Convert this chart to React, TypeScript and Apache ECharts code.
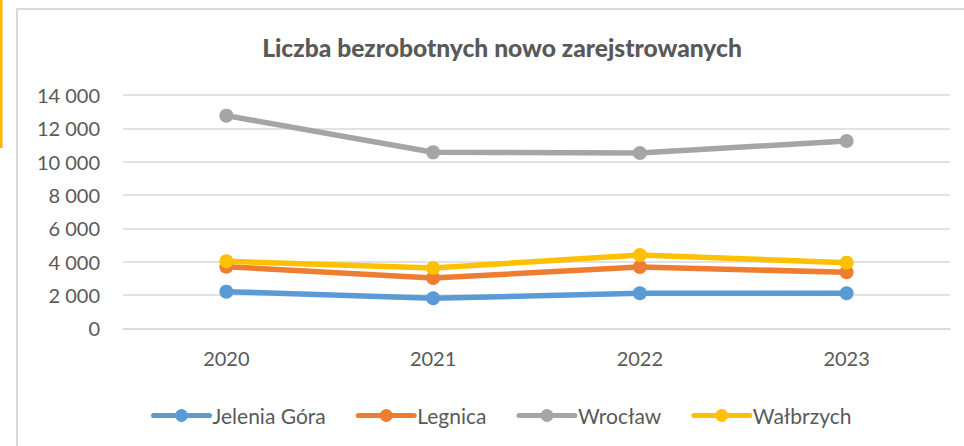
import React, { useEffect, useRef } from "react";
import * as echarts from "echarts";

const years = ["2020", "2021", "2022", "2023"];
const jeleniaGora = [2200, 1800, 2100, 2100];
const legnica = [3700, 3020, 3680, 3360];
const wroclaw = [12760, 10560, 10520, 11240];
const walbrzych = [4020, 3620, 4400, 3940];
const seriesNames = ["Jelenia Góra", "Legnica", "Wrocław", "Wałbrzych"];
const seriesColors = ["#5B9BD5", "#ED7D31", "#A5A5A5", "#FFC000"];
const titleText = "Liczba bezrobotnych nowo zarejstrowanych";

const FONT = "Lato, 'Open Sans', sans-serif";

export default function App() {
  const ref = useRef<HTMLDivElement>(null);
  useEffect(() => {
    if (!ref.current) return;
    const chart = echarts.init(ref.current, undefined, { renderer: "svg" });
    const datasets = [jeleniaGora, legnica, wroclaw, walbrzych];
    chart.setOption({
      animation: false,
      backgroundColor: "#ffffff",
      textStyle: { fontFamily: FONT },
      title: {
        text: titleText,
        left: 497,
        textAlign: "center",
        top: 30,
        textStyle: { fontFamily: FONT, fontWeight: 900, fontSize: 24.6, color: "#595959" },
      },
      graphic: [
        {
          type: "rect",
          shape: { x: 17, y: 9, width: 1000, height: 500 },
          style: { fill: "none", stroke: "#D9D9D9", lineWidth: 2 },
          silent: true,
        },
        {
          type: "rect",
          shape: { x: 0, y: 0, width: 2.5, height: 148 },
          style: { fill: "#FFB400" },
          silent: true,
        },
      ],
      legend: {
        left: 146,
        top: 400,
        itemWidth: 56,
        itemHeight: 16,
        itemGap: 30,
        lineStyle: { width: 5 },
        textStyle: { fontFamily: FONT, fontSize: 21, color: "#595959", padding: [0, 0, 0, -2] },
        data: seriesNames,
      },
      grid: { left: 123, right: 14, top: 95, bottom: 117.7, containLabel: false },
      xAxis: {
        type: "category",
        data: years,
        boundaryGap: true,
        axisLine: { show: true, lineStyle: { color: "#D9D9D9", width: 1.5 } },
        axisTick: { show: false },
        axisLabel: { fontFamily: FONT, fontSize: 20, color: "#595959", margin: 20 },
      },
      yAxis: {
        type: "value",
        min: 0,
        max: 14000,
        interval: 2000,
        axisLine: { show: false },
        axisTick: { show: false },
        splitLine: { lineStyle: { color: "#D9D9D9", width: 1.5 } },
        axisLabel: {
          fontFamily: FONT,
          fontSize: 20,
          color: "#595959",
          margin: 23,
          formatter: (v: number) => {
            if (v >= 1000) {
              const t = Math.floor(v / 1000);
              const r = String(v % 1000).padStart(3, "0");
              return t + " " + r;
            }
            return String(v);
          },
        },
      },
      series: seriesNames.map((name, i) => ({
        name,
        type: "line",
        data: datasets[i],
        symbol: "circle",
        symbolSize: 14,
        color: seriesColors[i],
        lineStyle: { width: 5.5, color: seriesColors[i], cap: "round" },
        itemStyle: { color: seriesColors[i] },
        z: 2 + i,
      })),
    });
    return () => chart.dispose();
  }, []);
  return (
    <div
      ref={ref}
      style={{ position: "fixed", left: 0, top: 0, width: 964, height: 446 }}
    />
  );
}
